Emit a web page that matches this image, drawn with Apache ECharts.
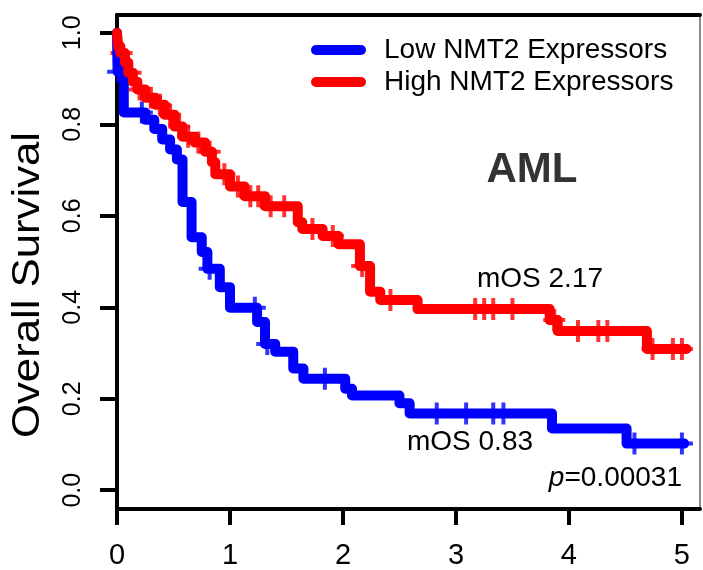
<!DOCTYPE html>
<html>
<head>
<meta charset="utf-8">
<script src="https://cdn.jsdelivr.net/npm/echarts@6/dist/echarts.min.js"></script>
<style>
  html, body { margin: 0; padding: 0; background: #ffffff; }
  #chart { width: 703px; height: 570px; }
</style>
</head>
<body>
<div id="chart"></div>
<script>
// Kaplan–Meier estimates: event times (years) and survival after each event
const seriesNames = ['Low NMT2 Expressors', 'High NMT2 Expressors'];
const seriesColors = ['#0000ff', '#ff0000'];

const lowTimes = [0, 0.005, 0.06, 0.25, 0.33, 0.40, 0.47, 0.53, 0.58, 0.66, 0.75, 0.80, 0.91, 1.00,
  1.24, 1.31, 1.40, 1.56, 1.65, 2.02, 2.08, 2.50, 2.59, 3.85, 4.51];
const lowSurvival = [1.0, 0.915, 0.826, 0.810, 0.790, 0.767, 0.745, 0.723, 0.630, 0.553, 0.521, 0.484, 0.444, 0.399,
  0.368, 0.320, 0.303, 0.266, 0.244, 0.222, 0.207, 0.190, 0.168, 0.135, 0.102];
const lowCensored = [0.01, 0.22, 0.82, 1.22, 1.33, 1.84, 2.83, 3.09, 3.33, 3.42, 4.58, 5.00];
const lowLastFollowUp = 5.02;

const highTimes = [0, 0.01, 0.03, 0.07, 0.10, 0.14, 0.18, 0.25, 0.34, 0.42, 0.51, 0.58, 0.69, 0.78, 0.84, 0.87,
  1.00, 1.13, 1.31, 1.60, 1.64, 1.82, 1.96, 2.15, 2.24, 2.33, 2.66, 3.83, 3.90, 4.69];
const highSurvival = [1.0, 0.970, 0.956, 0.935, 0.913, 0.893, 0.876, 0.858, 0.843, 0.821, 0.795, 0.773, 0.760, 0.740, 0.717, 0.691,
  0.664, 0.643, 0.621, 0.586, 0.571, 0.556, 0.538, 0.490, 0.434, 0.416, 0.396, 0.372, 0.348, 0.309];
const highCensored = [0.04, 0.12, 0.20, 0.30, 0.38, 0.47, 0.55, 0.63, 0.72, 0.82, 0.95, 1.07, 1.18, 1.25, 1.36, 1.48,
  1.73, 1.91, 2.17, 2.42, 3.17, 3.25, 3.33, 3.50, 3.87, 4.08, 4.26, 4.34, 4.74, 4.92, 5.00];
const highLastFollowUp = 5.04;

const xTicks = [0, 1, 2, 3, 4, 5];
const yTicks = [0, 0.2, 0.4, 0.6, 0.8, 1.0];

const FONT = 'Liberation Sans';

// survival value of a step function at time t
function survivalAt(times, surv, t) {
  let s = surv[0];
  for (let i = 0; i < times.length; i++) {
    if (times[i] <= t) s = surv[i];
  }
  return s;
}
function stepData(times, surv, lastTime) {
  const d = times.map((t, i) => [t, surv[i]]);
  d.push([lastTime, surv[surv.length - 1]]);
  return d;
}
function censorData(times, surv, cens) {
  return cens.map(t => [t, survivalAt(times, surv, t)]);
}

// "+" mark for censored observations
const plusMark = 'path://M9,0 H13 V9 H22 V13 H13 V22 H9 V13 H0 V9 H9 Z';
const capsule = 'path://M5,0 H50 A5,5 0 0 1 50,10 H5 A5,5 0 0 1 5,0 Z';

function curveSeries(name, color, times, surv, lastTime) {
  return {
    name: name, type: 'line', step: 'end',
    data: stepData(times, surv, lastTime),
    showSymbol: false, symbol: 'none',
    color: color,
    lineStyle: { width: 10, color: color, cap: 'round', join: 'round' },
    silent: true
  };
}
function censorSeries(name, color, times, surv, cens) {
  return {
    name: name, type: 'scatter',
    data: censorData(times, surv, cens),
    symbol: plusMark, symbolSize: 22,
    itemStyle: { color: color },
    silent: true
  };
}

const chart = echarts.init(document.getElementById('chart'), null, { renderer: 'canvas' });

chart.setOption({
  animation: false,
  backgroundColor: '#ffffff',
  grid: { left: 117, right: 3, top: 15, bottom: 59 },
  legend: {
    data: seriesNames,
    orient: 'vertical',
    left: 306, top: 29,
    itemWidth: 55, itemHeight: 10, itemGap: 0,
    icon: capsule,
    itemStyle: { borderWidth: 0 },
    textStyle: { fontSize: 28, fontFamily: FONT, color: '#000', lineHeight: 32, padding: [0, 0, 0, 13] },
    selectedMode: false
  },
  xAxis: [{
    type: 'value', min: 0, max: 5.16, position: 'bottom',
    axisLine: { show: true, onZero: false, lineStyle: { color: '#000', width: 4 } },
    axisTick: { show: true, customValues: xTicks, length: 16, lineStyle: { color: '#000', width: 4 } },
    axisLabel: { customValues: xTicks, margin: 32, fontSize: 29, fontFamily: FONT, color: '#000' },
    splitLine: { show: false }
  }, {
    type: 'value', min: 0, max: 5.16, position: 'top',
    axisLine: { show: true, onZero: false, lineStyle: { color: '#000', width: 4 } },
    axisTick: { show: false }, axisLabel: { show: false }, splitLine: { show: false }
  }],
  yAxis: [{
    type: 'value', min: -0.041, max: 1.039, position: 'left',
    axisLine: { show: true, onZero: false, lineStyle: { color: '#000', width: 4 } },
    axisTick: { show: true, customValues: yTicks, length: 17, lineStyle: { color: '#000', width: 4 } },
    axisLabel: {
      customValues: yTicks, rotate: 90, margin: 31,
      fontSize: 25, fontFamily: FONT, color: '#000',
      formatter: v => v.toFixed(1)
    },
    splitLine: { show: false }
  }, {
    type: 'value', min: -0.041, max: 1.039, position: 'right',
    axisLine: { show: true, onZero: false, lineStyle: { color: '#666', width: 1.5 } },
    axisTick: { show: false }, axisLabel: { show: false }, splitLine: { show: false }
  }],
  series: [
    curveSeries(seriesNames[0], seriesColors[0], lowTimes, lowSurvival, lowLastFollowUp),
    censorSeries(seriesNames[0], seriesColors[0], lowTimes, lowSurvival, lowCensored),
    curveSeries(seriesNames[1], seriesColors[1], highTimes, highSurvival, highLastFollowUp),
    censorSeries(seriesNames[1], seriesColors[1], highTimes, highSurvival, highCensored)
  ],
  graphic: [
    {
      type: 'text', x: 29, y: 285, rotation: Math.PI / 2, scaleX: 1.15,
      style: { text: 'Overall Survival', fontSize: 38, fontFamily: FONT, fill: '#000', align: 'center', verticalAlign: 'middle' }
    },
    {
      type: 'text', x: 532, y: 170,
      style: { text: 'AML', fontSize: 42, fontWeight: 'bold', fontFamily: FONT, fill: '#333', align: 'center', verticalAlign: 'middle' }
    },
    {
      type: 'text', x: 540, y: 279,
      style: { text: 'mOS 2.17', fontSize: 28, fontFamily: FONT, fill: '#000', align: 'center', verticalAlign: 'middle' }
    },
    {
      type: 'text', x: 470, y: 442,
      style: { text: 'mOS 0.83', fontSize: 28, fontFamily: FONT, fill: '#000', align: 'center', verticalAlign: 'middle' }
    },
    {
      type: 'text', x: 682, y: 478,
      style: {
        text: '{i|p}{n|=0.00031}', align: 'right', verticalAlign: 'middle',
        rich: {
          i: { fontSize: 28, fontFamily: FONT, fontStyle: 'italic', fill: '#000' },
          n: { fontSize: 28, fontFamily: FONT, fill: '#000' }
        }
      }
    }
  ]
});
</script>
</body>
</html>
